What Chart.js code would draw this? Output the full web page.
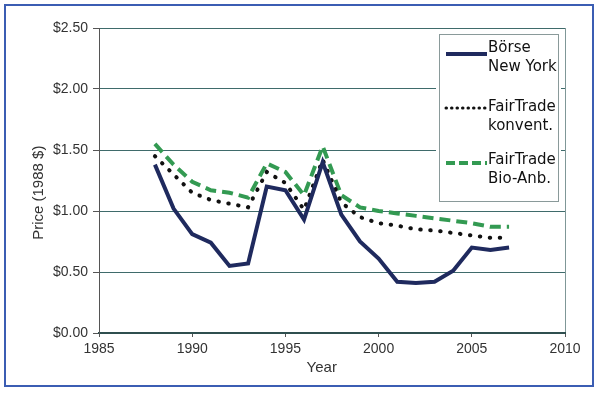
<!DOCTYPE html>
<html>
<head>
<meta charset="utf-8">
<script src="https://cdn.jsdelivr.net/npm/chart.js@4/dist/chart.umd.min.js"></script>
<style>
  html, body { margin: 0; padding: 0; background: #fff; }
  #wrap { position: relative; width: 600px; height: 394px; }
</style>
</head>
<body>
<div id="wrap"><canvas id="priceChart" width="600" height="394"></canvas></div>
<script>
// Coffee price (1988 $) per year
const years = [1988, 1989, 1990, 1991, 1992, 1993, 1994, 1995, 1996, 1997,
               1998, 1999, 2000, 2001, 2002, 2003, 2004, 2005, 2006, 2007];
const boerseNY = [1.38, 1.02, 0.81, 0.74, 0.55, 0.57, 1.20, 1.17, 0.93, 1.40,
                  0.97, 0.75, 0.61, 0.42, 0.41, 0.42, 0.51, 0.70, 0.68, 0.70];
const fairKonvent = [1.45, 1.30, 1.15, 1.09, 1.06, 1.03, 1.32, 1.23, 1.01, 1.42,
                     1.07, 0.95, 0.90, 0.88, 0.85, 0.84, 0.82, 0.80, 0.78, 0.78];
const fairBio = [1.55, 1.38, 1.24, 1.17, 1.15, 1.11, 1.39, 1.32, 1.13, 1.53,
                 1.13, 1.03, 1.00, 0.98, 0.96, 0.94, 0.92, 0.90, 0.87, 0.87];
const seriesNames = [['Börse', 'New York'], ['FairTrade', 'konvent.'], ['FairTrade', 'Bio-Anb.']];
const xTicks = [1985, 1990, 1995, 2000, 2005, 2010];
const yTicks = [0, 0.5, 1.0, 1.5, 2.0, 2.5];

const toPoints = vals => vals.map((v, i) => ({ x: years[i], y: v }));

const tickFont = { family: "'Liberation Sans', Arial, sans-serif", size: 14 };
const labelColor = '#333';
const gridTeal = '#3f6b6b';

// white page, blue frame, axis titles and the boxed legend
const decorPlugin = {
    id: 'decor',
    beforeDraw(chart) {
        const ctx = chart.ctx;
        ctx.save();
        ctx.fillStyle = '#fff';
        ctx.fillRect(0, 0, chart.width, chart.height);
        ctx.strokeStyle = '#3b5db3';
        ctx.lineWidth = 2;
        ctx.strokeRect(5, 5, 588, 381);
        ctx.restore();
    },
    afterDraw(chart) {
        const ctx = chart.ctx;
        const area = chart.chartArea;
        ctx.save();

        // axis titles
        ctx.fillStyle = labelColor;
        ctx.font = "15px 'Liberation Sans', Arial, sans-serif";
        ctx.textAlign = 'center';
        ctx.textBaseline = 'middle';
        ctx.fillText('Year', area.left + (area.right - area.left) * 0.478, area.bottom + 35);
        ctx.translate(39, area.top + (area.bottom - area.top) * 0.54);
        ctx.rotate(-Math.PI / 2);
        ctx.fillText('Price (1988 $)', 0, 0);
        ctx.restore();

        // legend box
        ctx.save();
        const bx = 439, by = 34, bw = 119, bh = 167;
        ctx.fillStyle = '#fff';
        ctx.fillRect(bx - 3, by - 3, bw + 6, bh + 6);
        ctx.strokeStyle = '#8a9a9a';
        ctx.lineWidth = 1;
        ctx.strokeRect(bx + 0.5, by + 0.5, bw, bh);

        const rows = [54, 108, 163];
        const textTop = [48, 107, 160];
        const sampleDash = [[], [0.5, 5], [9, 4]];
        ctx.font = "15px 'DejaVu Sans', sans-serif";
        ctx.textAlign = 'left';
        ctx.textBaseline = 'middle';
        chart.data.datasets.forEach((ds, i) => {
            ctx.save();
            ctx.strokeStyle = ds.borderColor;
            ctx.lineWidth = i === 1 ? 3 : ds.borderWidth;
            ctx.lineCap = ds.borderCapStyle || 'butt';
            ctx.setLineDash(sampleDash[i]);
            ctx.beginPath();
            ctx.moveTo(446, rows[i]);
            ctx.lineTo(487, rows[i]);
            ctx.stroke();
            ctx.restore();
            ctx.fillStyle = '#111';
            ctx.fillText(seriesNames[i][0], 488, textTop[i]);
            ctx.fillText(seriesNames[i][1], 488, textTop[i] + 19);
        });
        ctx.restore();
    }
};

new Chart(document.getElementById('priceChart'), {
    type: 'line',
    data: {
        datasets: [{
            label: seriesNames[0].join(' '),
            data: toPoints(boerseNY),
            borderColor: '#1f2a5e',
            borderWidth: 4,
            borderJoinStyle: 'miter'
        }, {
            label: seriesNames[1].join(' '),
            data: toPoints(fairKonvent),
            borderColor: '#111',
            borderWidth: 4,
            borderCapStyle: 'round',
            borderDash: [0.5, 9.5]
        }, {
            label: seriesNames[2].join(' '),
            data: toPoints(fairBio),
            borderColor: '#339a52',
            borderWidth: 4,
            borderDash: [11, 6]
        }]
    },
    options: {
        responsive: false,
        animation: false,
        events: [],
        elements: { point: { radius: 0 }, line: { tension: 0, fill: false } },
        layout: { padding: { top: 28, right: 35, left: 0, bottom: 0 } },
        plugins: { legend: { display: false }, tooltip: { enabled: false } },
        scales: {
            x: {
                type: 'linear',
                min: 1985,
                max: 2010,
                afterBuildTicks: scale => { scale.ticks = xTicks.map(v => ({ value: v })); },
                afterFit: scale => { scale.height = 61; },
                ticks: {
                    font: tickFont,
                    color: labelColor,
                    padding: 4,
                    maxRotation: 0,
                    callback: v => String(v)
                },
                grid: {
                    drawOnChartArea: true,
                    color: ctx => (ctx.tick && ctx.tick.value === 2010) ? '#7f9797' : 'rgba(0,0,0,0)',
                    tickColor: '#555',
                    tickLength: 4
                },
                border: { color: '#2f4f4f', width: 2 }
            },
            y: {
                min: 0,
                max: 2.5,
                afterBuildTicks: scale => { scale.ticks = yTicks.map(v => ({ value: v })); },
                afterFit: scale => { scale.width = 99; },
                ticks: {
                    font: tickFont,
                    color: labelColor,
                    padding: 5,
                    callback: v => '$' + Number(v).toFixed(2)
                },
                grid: { color: gridTeal, tickColor: '#555', tickLength: 6 },
                border: { color: '#555', width: 1 }
            }
        }
    },
    plugins: [decorPlugin]
});
</script>
</body>
</html>
